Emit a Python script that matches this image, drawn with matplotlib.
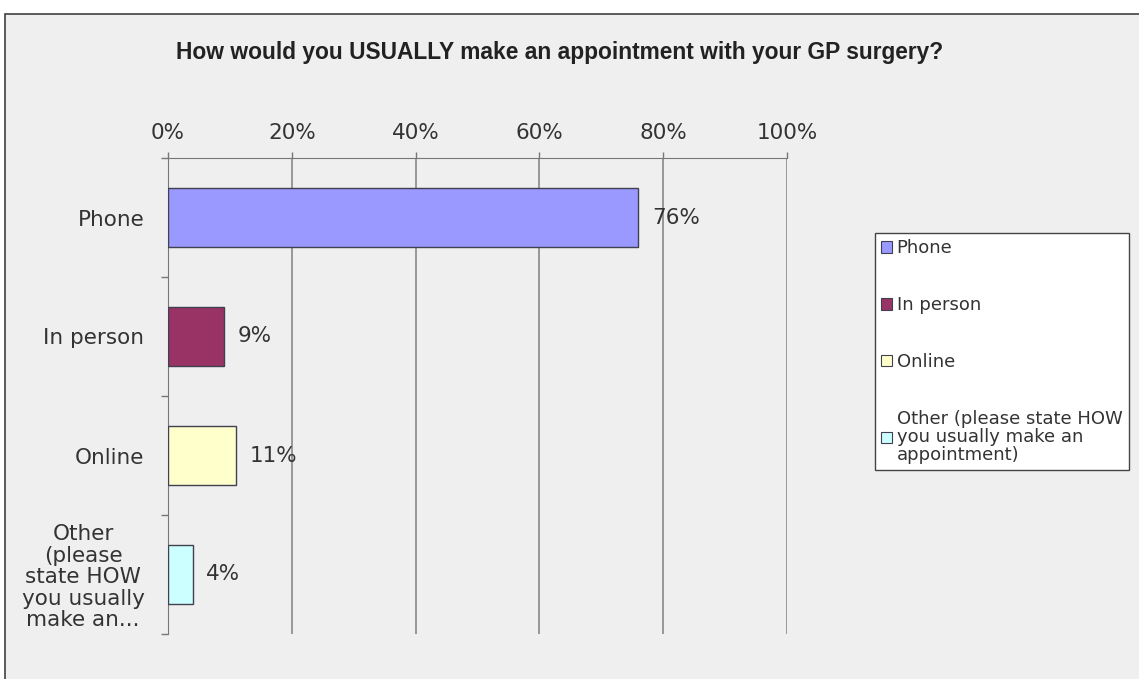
import matplotlib
matplotlib.use("Agg")
import matplotlib.pyplot as plt
from matplotlib.patches import Rectangle, Patch

# survey results
categories = ["Phone", "In person", "Online",
              "Other (please state HOW you usually make an appointment)"]
tick_names = ["Phone", "In person", "Online",
              "Other\n(please\nstate HOW\nyou usually\nmake an..."]
legend_names = ["Phone", "In person", "Online",
                "Other (please state HOW\nyou usually make an\nappointment)"]
percent = [76, 9, 11, 4]
colors = ["#9999ff", "#993366", "#ffffcc", "#ccffff"]

plt.rcParams['font.family'] = ['DejaVu Sans']
bg = "#efefef"
txt = "#333333"

fig = plt.figure(figsize=(11.39, 6.79), dpi=100)
fig.patch.set_facecolor("white")
# grey chart area with a dark frame
fig.patches.append(Rectangle((5 / 1139, -0.1), 1.2, (679 - 14) / 679 + 0.1,
                             transform=fig.transFigure, facecolor=bg,
                             edgecolor="#404040", linewidth=1.2, zorder=-5))

fig.text(560 / 1139, 1 - 53 / 679,
         "How would you USUALLY make an appointment with your GP surgery?",
         ha="center", va="center", fontsize=16.4, fontweight="bold",
         family=["Liberation Sans", "DejaVu Sans"], color="#222222")

ax = fig.add_axes([168 / 1139, 45 / 679, 619 / 1139, 476 / 679])
ax.set_facecolor("none")

y = list(range(len(categories)))
ax.barh(y, percent, height=0.5, color=colors, edgecolor="#404050",
        linewidth=1.0, zorder=3)
for yi, p in zip(y, percent):
    ax.text(p + 2.2, yi, f"{p}%", va="center", ha="left", fontsize=15.5,
            color=txt, zorder=4)

ax.set_xlim(0, 100)
ax.set_ylim(3.5, -0.5)
ax.xaxis.tick_top()
ax.set_xticks([0, 20, 40, 60, 80, 100])
ax.set_xticklabels([f"{v}%" for v in [0, 20, 40, 60, 80, 100]])
ax.tick_params(axis="x", direction="out", length=4.5, width=1, color="#777777",
               labelsize=15.5, labelcolor=txt, pad=6)
ax.grid(axis="x", color="#888888", linewidth=1.2, zorder=1)

ax.set_yticks(y)
ax.set_yticklabels(tick_names, multialignment="center", linespacing=1.1)
ax.set_yticks([-0.5, 0.5, 1.5, 2.5, 3.5], minor=True)
ax.tick_params(axis="y", which="major", length=0, labelsize=15.5,
               labelcolor=txt, pad=17)
ax.tick_params(axis="y", which="minor", direction="out", length=5, width=1,
               color="#777777")

for side in ["right", "bottom"]:
    ax.spines[side].set_visible(False)
ax.spines["top"].set_color("#777777")
ax.spines["left"].set_color("#777777")

handles = [Patch(facecolor=c, edgecolor="#404050", linewidth=0.8) for c in colors]
leg = fig.legend(handles, legend_names, loc="upper left",
                 bbox_to_anchor=(875 / 1139, 1 - 233 / 679), fontsize=13,
                 frameon=True, fancybox=False, edgecolor="#444444",
                 facecolor="white", framealpha=1, labelspacing=2.15,
                 handlelength=0.6, handleheight=0.6, handletextpad=0.25,
                 borderpad=0.35, borderaxespad=0)
for t in leg.get_texts():
    t.set_color(txt)
    t.set_linespacing(1.0)

fig.savefig("out.png", dpi=100, facecolor=fig.get_facecolor())
